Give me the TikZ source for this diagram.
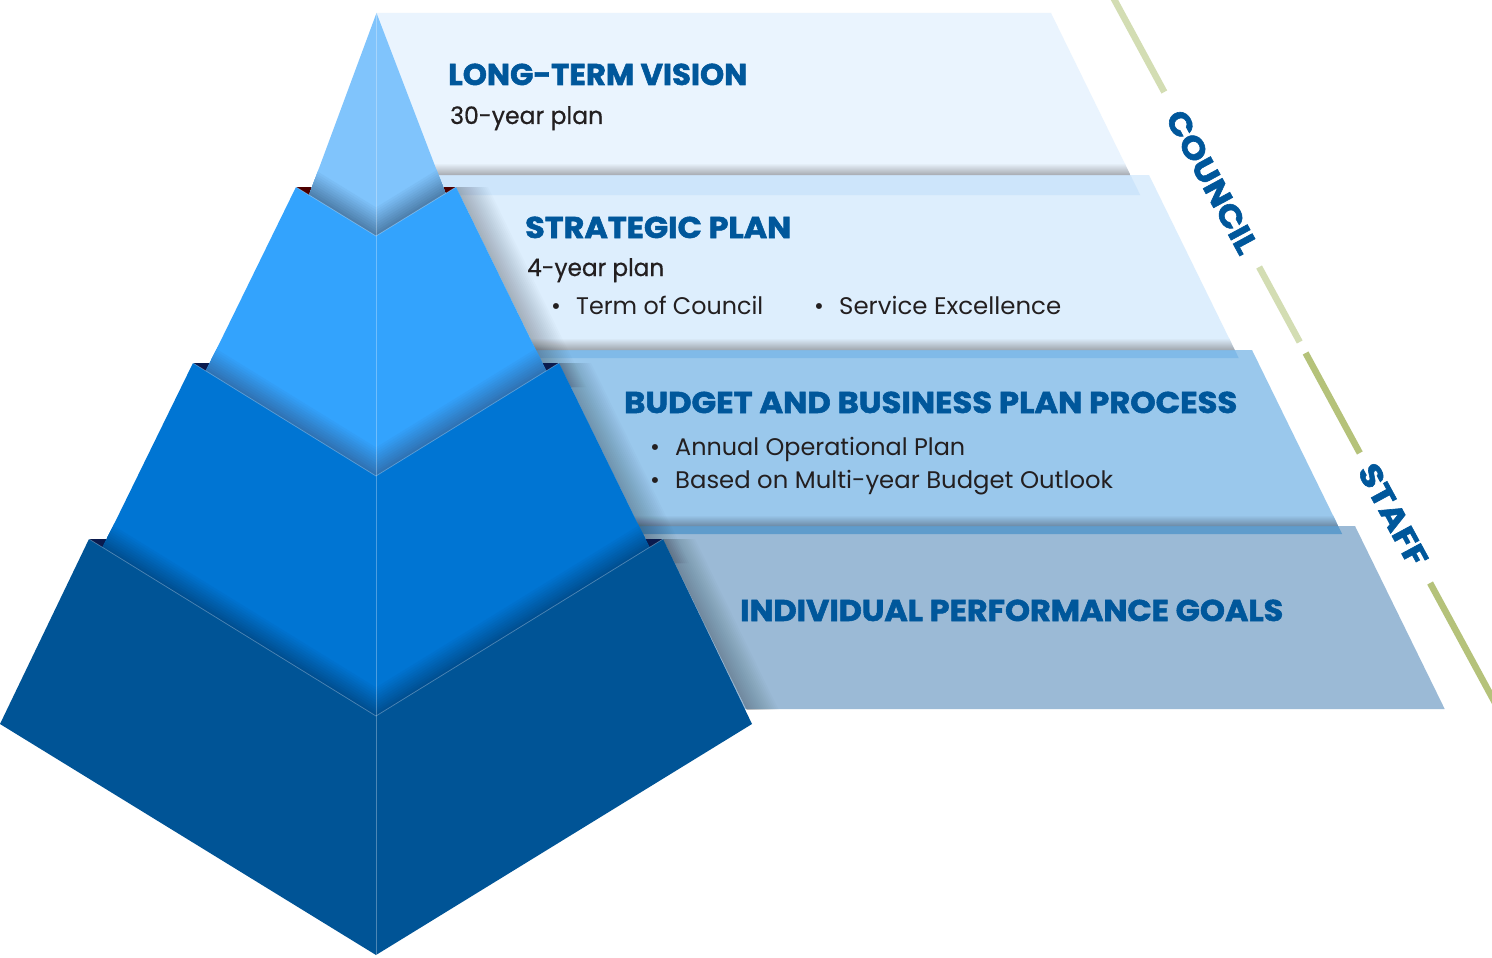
\documentclass[tikz,border=0pt]{standalone}
\usepackage{fontspec}
\setmainfont{Poppins}
\newfontfamily\headfont{Poppins}[BoldFeatures={FakeBold=1.8}]
\newfontfamily\medfont{Poppins}[FakeBold=0.6]
\usepackage{graphicx}
\definecolor{hblue}{HTML}{00579B}
\definecolor{btext}{HTML}{231F20}
\definecolor{pA}{HTML}{EAF4FE}
\definecolor{pAband}{HTML}{CDE5FB}
\definecolor{pAgray}{HTML}{A6AAB0}
\definecolor{pB}{HTML}{DDEEFD}
\definecolor{pBband}{HTML}{80BAE8}
\definecolor{pBgray}{HTML}{A0A6AD}
\definecolor{pC}{HTML}{9AC8EC}
\definecolor{pCband}{HTML}{5F9CCC}
\definecolor{pCgray}{HTML}{6C8AA6}
\definecolor{pD}{HTML}{9BBAD6}
\definecolor{tA}{HTML}{80C4FC}
\definecolor{tB}{HTML}{33A3FD}
\definecolor{tC}{HTML}{0075D3}
\definecolor{tD}{HTML}{005496}
\definecolor{dA}{HTML}{4A7AA6}
\definecolor{dB}{HTML}{2F6FAE}
\definecolor{dC}{HTML}{004C8C}
\definecolor{cornerred}{HTML}{4D0000}
\definecolor{cornernavy}{HTML}{0A1B4E}
\definecolor{sagelight}{HTML}{D3DDB3}
\definecolor{sagedark}{HTML}{B5C27A}
\newcommand\Vshadow[7]{%
  \foreach \i in {12,11,...,1}{%
    \pgfmathsetmacro\hh{\i*2.6}%
    \pgfmathtruncatemacro\pp{\i/12*100}%
    \fill[#1!\pp!#2] (#3-60,#4-\hh-36.9) -- (376,#5-\hh) -- (#6+60,#7-\hh-36.9) -- (#6+60,#5+60) -- (#3-60,#5+60) -- cycle;
  }}
\newcommand\Eshadow[2]{%
  \foreach \d in {2,4,...,32}{%
    \fill[black, fill opacity=0.016] (#1,#2) -- (#1+\d,#2) -- (#1+\d+98,#2+200) -- (#1+98,#2+200) -- cycle;
  }}
\tikzset{
  headtxt/.style={anchor=base west, inner sep=0pt, text=hblue, font=\headfont\bfseries\fontsize{30}{36}\selectfont},
  subtxt/.style={anchor=base west, inner sep=0pt, text=btext, font=\medfont\fontsize{24}{28}\selectfont},
  bultxt/.style={anchor=base west, inner sep=0pt, text=btext, font=\fontsize{24}{28}\selectfont},
  buldot/.style={anchor=base, inner sep=0pt, text=btext, font=\fontsize{24}{28}\selectfont},
  sidetxt/.style={inner sep=0pt, text=hblue, font=\headfont\bfseries\fontsize{31}{34}\selectfont, rotate=-61.56},
  seglight/.style={draw=sagelight, line width=6.5pt},
  segdark/.style={draw=sagedark, line width=6.5pt},
  edgeline/.style={draw=white, draw opacity=0.3, line width=0.7pt},
}
\begin{document}
\begin{tikzpicture}[x=1pt,y=-1pt]
\useasboundingbox (0,0) rectangle (1492,958);
\fill[white] (0,0) rectangle (1492,958);
\begin{scope}
\clip (0,0) rectangle (1492,958);
% ---------- panels (back to front) ----------
\fill[pD] (376,526) -- (1355,526) -- (1444.7,709) -- (376,709) -- cycle;
\fill[pC] (376,350) -- (1252,350) -- (1338.2,526) -- (376,526) -- cycle;
\fill[pCband] (376,526) -- (1338.2,526) -- (1342.2,534) -- (376,534) -- cycle;
\begin{scope}
  \clip (376,350) -- (1252,350) -- (1338.2,526) -- (376,526) -- cycle;
  \shade[top color=pC, bottom color=pCgray] (376,515) rectangle (1400,526);
\end{scope}
\fill[pB] (376,175) -- (1149,175) -- (1234.8,350) -- (376,350) -- cycle;
\fill[pBband] (376,350) -- (1234.8,350) -- (1238.7,358) -- (376,358) -- cycle;
\begin{scope}
  \clip (376,175) -- (1149,175) -- (1234.8,350) -- (376,350) -- cycle;
  \shade[top color=pB, bottom color=pBgray] (376,338) rectangle (1300,350);
\end{scope}
\fill[pA] (376,13) -- (1051,13) -- (1130.4,175) -- (376,175) -- cycle;
\fill[pAband] (376,175) -- (1130.4,175) -- (1140.2,195) -- (376,195) -- cycle;
\begin{scope}
  \clip (376,13) -- (1051,13) -- (1130.4,175) -- (376,175) -- cycle;
  \shade[top color=pA, bottom color=pAgray] (376,163) rectangle (1200,175);
\end{scope}
% ---------- shadows cast by the pyramid on the panels ----------
\begin{scope}
  \clip (376,13) rectangle (1492,709);
  \Eshadow{456}{187}
  \Eshadow{559}{363}
  \Eshadow{663}{539}
\end{scope}
% ---------- corner notches ----------
\fill[cornerred] (296,187) -- (330,187) -- (330,215) -- cycle;
\fill[cornerred] (456,187) -- (422,187) -- (422,215) -- cycle;
\fill[cornernavy] (193,363) -- (225,363) -- (225,390) -- cycle;
\fill[cornernavy] (559,363) -- (527,363) -- (527,390) -- cycle;
\fill[cornernavy] (89,539) -- (121,539) -- (121,566) -- cycle;
\fill[cornernavy] (663,539) -- (631,539) -- (631,566) -- cycle;
% ---------- pyramid tiers ----------
\begin{scope}
  \clip (376.5,13) -- (285,260) -- (376,280) -- (471,260) -- cycle;
  \fill[tA] (0,0) rectangle (1492,958);
  \Vshadow{tA}{dA}{296}{187}{236}{456}{187}
\end{scope}
\begin{scope}
  \clip (296,187) -- (199,385) -- (376,500) -- (553,385) -- (456,187) -- (376,236) -- cycle;
  \fill[tB] (0,0) rectangle (1492,958);
  \Vshadow{tB}{dB}{193}{363}{476}{559}{363}
\end{scope}
\begin{scope}
  \clip (193,363) -- (95,563) -- (376,760) -- (657,563) -- (559,363) -- (376,476) -- cycle;
  \fill[tC] (0,0) rectangle (1492,958);
  \Vshadow{tC}{dC}{89}{539}{716}{663}{539}
\end{scope}
\fill[tD] (89,539) -- (0,724) -- (376,955) -- (752,724) -- (663,539) -- (376,716) -- cycle;
% thin highlight edges
\draw[edgeline] (296,187) -- (376,236) -- (456,187);
\draw[edgeline] (193,363) -- (376,476) -- (559,363);
\draw[edgeline] (89,539) -- (376,716) -- (663,539);
\draw[edgeline] (376,13) -- (376,955);
% ---------- council / staff divider ----------
\coordinate (sa1) at (1111.8,-5);   \coordinate (sa2) at (1164.3,92);
\coordinate (sb1) at (1259.1,267);  \coordinate (sb2) at (1299.7,342);
\coordinate (sc1) at (1305.6,353);  \coordinate (sc2) at (1359.8,453);
\coordinate (sd1) at (1430.1,583);  \coordinate (sd2) at (1496.2,705);
\draw[seglight] (sa1) -- (sa2);
\draw[seglight] (sb1) -- (sb2);
\draw[segdark] (sc1) -- (sc2);
\draw[segdark] (sd1) -- (sd2);
\end{scope}
\node[sidetxt] (council) at (1212,182) {\resizebox{158pt}{\height}{COUNCIL}};
\node[sidetxt] (staff) at (1393,515) {\resizebox{112pt}{\height}{STAFF}};
% ---------- texts ----------
\node[headtxt] (ltv) at (448,85) {\resizebox{299pt}{\height}{LONG-TERM VISION}};
\node[subtxt] (y30) at (450,124) {\resizebox{153pt}{\height}{30-year plan}};
\node[headtxt] (sp) at (525,238) {\resizebox{266pt}{\height}{STRATEGIC PLAN}};
\node[subtxt] (y4) at (527,276) {\resizebox{137pt}{\height}{4-year plan}};
\node[buldot] (b1) at (556,314) {\textbullet};
\node[bultxt] (toc) at (576,314) {\resizebox{187pt}{\height}{Term of Council}};
\node[buldot] (b2) at (819,314) {\textbullet};
\node[bultxt] (se) at (839,314) {\resizebox{222pt}{\height}{Service Excellence}};
\node[headtxt] (bbp) at (624,413) {\resizebox{613pt}{\height}{BUDGET AND BUSINESS PLAN PROCESS}};
\node[buldot] (b3) at (655,455) {\textbullet};
\node[bultxt] (aop) at (675,455) {\resizebox{290pt}{\height}{Annual Operational Plan}};
\node[buldot] (b4) at (655,488) {\textbullet};
\node[bultxt] (mbo) at (675,488) {\resizebox{438pt}{\height}{Based on Multi-year Budget Outlook}};
\node[headtxt] (ipg) at (740,621) {\resizebox{543pt}{\height}{INDIVIDUAL PERFORMANCE GOALS}};
\end{tikzpicture}
\end{document}
